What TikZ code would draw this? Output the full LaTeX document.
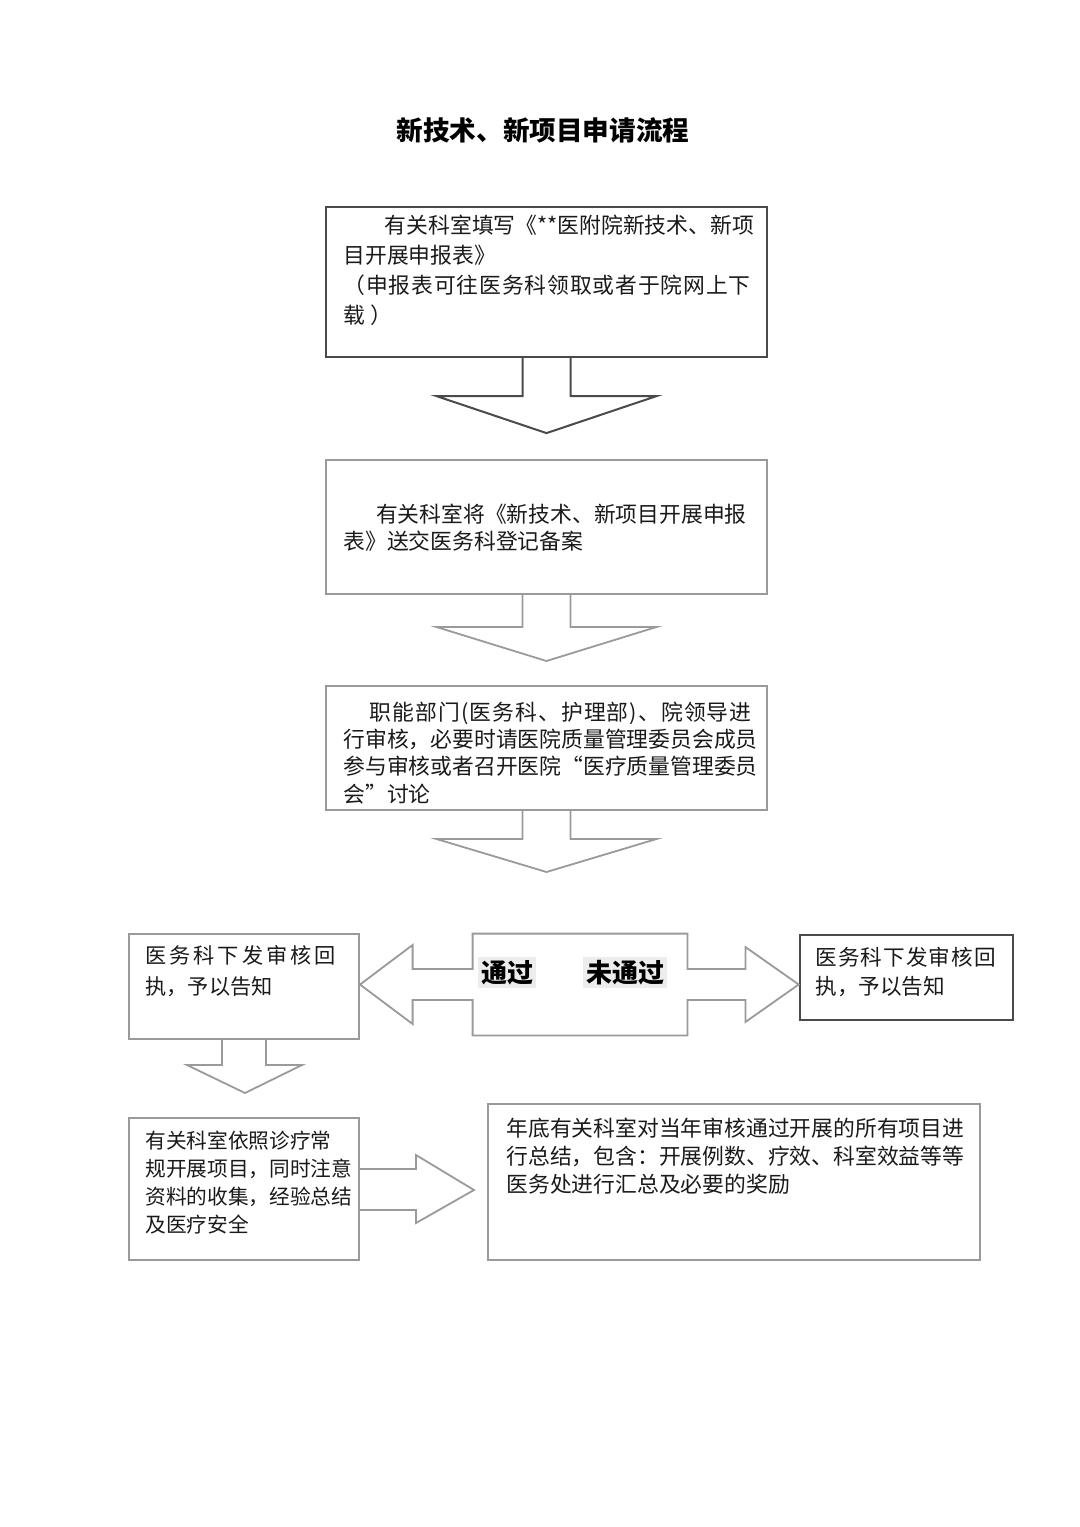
\documentclass[tikz,border=0pt]{standalone}
\usepackage{fontspec}
\setmainfont{Noto Sans CJK SC}
\usetikzlibrary{fit,calc}
\definecolor{lndark}{HTML}{4A4A4A}
\definecolor{lnlight}{HTML}{9A9A9A}
\definecolor{txtc}{HTML}{1A1A1A}
\begin{document}
\begin{tikzpicture}[x=0.5pt,y=-0.5pt,
  boxd/.style={draw=lndark, line width=1.1pt, inner sep=0pt},
  boxl/.style={draw=lnlight, line width=1pt, inner sep=0pt},
  arrd/.style={draw=lndark, line width=1pt, line join=miter},
  arrl/.style={draw=lnlight, line width=0.9pt, line join=miter},
  txt/.style={anchor=base west, inner sep=0pt, align=left, text=txtc},
  fs/.style={font=\fontsize{10.9pt}{#1}\selectfont},
  hilite/.style={inner sep=1.5pt, fill=black!7, text=black, font=\fontsize{13pt}{15pt}\selectfont\bfseries}
]
\useasboundingbox (0,0) rectangle (1080,1527);

% title
\node[inner sep=0pt, anchor=base, text=black, font=\fontsize{13.3pt}{16pt}\selectfont\bfseries] (title) at (543,140) {新技术、新项目申请流程};

% boxes
\node[boxd, fit={(326,207)(767,357)}] (b1) {};
\node[boxl, fit={(326,460)(767,594)}] (b2) {};
\node[boxl, fit={(326,686)(767,810)}] (b3) {};
\node[boxl, fit={(129,934)(359,1039)}] (lb) {};
\node[inner sep=0pt, fit={(473,934)(687,1035)}] (mid) {};
\node[draw=lndark, line width=1.3pt, inner sep=0pt, fit={(800,935)(1013,1020)}] (rb) {};
\node[boxl, fit={(129,1118)(359,1260)}] (l5) {};
\node[boxl, fit={(488,1104)(980,1260)}] (r5) {};

% texts (base anchor = baseline of last line)
\node[txt, fs=14.85pt] (t1) at (343,323) {\hspace*{1.9em}有关科室填写《**医附院新技术、新项\\目开展申报表》\\{\addfontfeature{LetterSpace=4}（申报表可往医务科领取或者于院网上下}\\载 ）};
\node[txt, fs=13.5pt] (t2) at (343,549) {\hspace*{1.5em}有关科室将《新技术、新项目开展申报\\表》送交医务科登记备案};
\node[txt, fs=13.65pt] (t3) at (343,802) {\hspace*{1.2em}{\addfontfeature{LetterSpace=5}职能部门(医务科、护理部)、院领导进}\\行审核，必要时请医院质量管理委员会成员\\参与审核或者召开医院“医疗质量管理委员\\会”讨论};
\node[txt, font=\fontsize{10.6pt}{15.5pt}\selectfont] (tl) at (145,994) {{\addfontfeature{LetterSpace=14}医务科下发审核回}\\执，予以告知};
\node[txt, font=\fontsize{10.8pt}{14.5pt}\selectfont] (tr) at (815,994) {{\addfontfeature{LetterSpace=5}医务科下发审核回}\\执，予以告知};
\node[txt, font=\fontsize{10.35pt}{14pt}\selectfont] (tl5) at (145,1232) {有关科室依照诊疗常\\规开展项目，同时注意\\资料的收集，经验总结\\及医疗安全};
\node[txt, fs=14pt] (tr5) at (506,1192) {年底有关科室对当年审核通过开展的所有项目进\\行总结，包含：开展例数、疗效、科室效益等等\\医务处进行汇总及必要的奖励};

\node[hilite, anchor=base] (pass) at (507,982) {通过};
\node[hilite, anchor=base] (fail) at (625,982) {未通过};

% block arrows down
\draw[arrd] ($(b1.south)+(-24,0)$) -- ($(b1.south)+(-24,38)$) -- ($(b1.south)+(-110,38)$) -- ($(b1.south)+(0,75)$) -- ($(b1.south)+(110,38)$) -- ($(b1.south)+(24,38)$) -- ($(b1.south)+(24,0)$);
\draw[arrl] ($(b2.south)+(-24,0)$) -- ($(b2.south)+(-24,32)$) -- ($(b2.south)+(-110,32)$) -- ($(b2.south)+(0,66)$) -- ($(b2.south)+(110,32)$) -- ($(b2.south)+(24,32)$) -- ($(b2.south)+(24,0)$);
\draw[arrl] ($(b3.south)+(-24,0)$) -- ($(b3.south)+(-24,28)$) -- ($(b3.south)+(-110,28)$) -- ($(b3.south)+(0,61)$) -- ($(b3.south)+(110,28)$) -- ($(b3.south)+(24,28)$) -- ($(b3.south)+(24,0)$);

% double arrow with middle block
\draw[arrl] (mid.north west) -- (mid.north east) -- ($(mid.east)+(0,-15.5)$) -- ($(mid.east)+(58,-15.5)$) -- ($(mid.east)+(58,-37.5)$) -- (rb.west |- mid.east) -- ($(mid.east)+(58,37.5)$) -- ($(mid.east)+(58,15.5)$) -- ($(mid.east)+(0,15.5)$) -- (mid.south east) -- (mid.south west) -- ($(mid.west)+(0,15.5)$) -- ($(mid.west)+(-60,15.5)$) -- ($(mid.west)+(-60,39.5)$) -- (lb.east |- mid.west) -- ($(mid.west)+(-60,-39.5)$) -- ($(mid.west)+(-60,-15.5)$) -- ($(mid.west)+(0,-15.5)$) -- cycle;

% left down arrow
\draw[arrl] ($(lb.south)+(-22,0)$) -- ($(lb.south)+(-22,25)$) -- ($(lb.south)+(-57,25)$) -- ($(lb.south)+(1,53)$) -- ($(lb.south)+(58,25)$) -- ($(lb.south)+(22,25)$) -- ($(lb.south)+(22,0)$);

% right arrow row 5
\draw[arrl] ($(l5.east)+(0,-20)$) -- ($(l5.east)+(56,-20)$) -- ($(l5.east)+(56,-34)$) -- ($(l5.east)+(114,1)$) -- ($(l5.east)+(56,34)$) -- ($(l5.east)+(56,21)$) -- ($(l5.east)+(0,21)$);
\end{tikzpicture}
\end{document}
